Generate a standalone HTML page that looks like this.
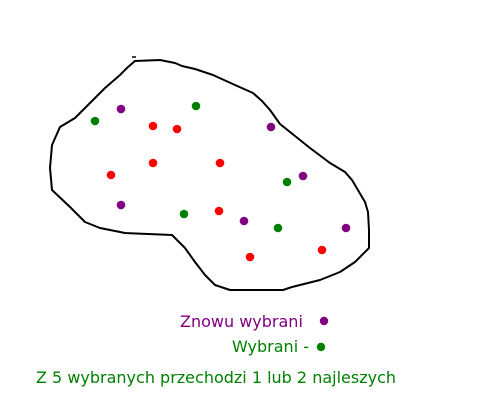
<!DOCTYPE html>
<html><head><meta charset="utf-8"><style>
html,body{margin:0;padding:0;background:#fff;width:503px;height:403px;overflow:hidden}
svg text{font-family:"DejaVu Sans","Liberation Sans",sans-serif;font-size:16px}
</style></head><body>
<svg width="503" height="403" viewBox="0 0 503 403">
<path fill="none" stroke="#000" stroke-width="2" stroke-linejoin="round"
d="M135,61 L160,60 L175,63 L182,66 L195,69 L213,75 L235,85 L253,93 L262,101 L270,110 L280,124 L290,132 L310,148 L330,163 L345,172 L352,180 L365,202 L368,212 L369,230 L369,248 L355,262 L340,272 L320,280 L292,287 L283,290 L230,290 L215,285 L205,275 L195,262 L185,248 L172,235 L125,233 L100,228 L85,222 L70,207 L52,190 L50,168 L52,145 L60,127 L75,118 L90,103 L105,88 L120,75 L128,67 Z"/>
<line x1="132" y1="57" x2="136" y2="57" stroke="#000" stroke-width="1.5"/>
<g id="dots"></g>
<text x="180" y="327" fill="#800080">Znowu wybrani</text>
<circle cx="324" cy="321" r="4.2" fill="#800080"/>
<text x="232" y="352" fill="#008000">Wybrani -</text>
<circle cx="321" cy="347" r="4.2" fill="#008000"/>
<text x="36" y="383" fill="#008000">Z 5 wybranych przechodzi 1 lub 2 najleszych</text>
</svg>
<script>
const redX=[153,177,111,153,220,219,250,322];
const redY=[126,129,175,163,163,211,257,250];
const purpleX=[121,271,303,121,244,346];
const purpleY=[109,127,176,205,221,228];
const greenX=[196,95,287,184,278];
const greenY=[106,121,182,214,228];
const g=document.getElementById('dots');
function draw(xs,ys,color,name){
  for(let i=0;i<xs.length;i++){
    const c=document.createElementNS('http://www.w3.org/2000/svg','circle');
    c.setAttribute('cx',xs[i]);c.setAttribute('cy',ys[i]);c.setAttribute('r',4.3);c.setAttribute('fill',color);
    
    
    g.appendChild(c);
  }
}
draw(redX,redY,'#ff0000','red-dot');
draw(purpleX,purpleY,'#800080','purple-dot');
draw(greenX,greenY,'#008000','green-dot');
</script>
</body></html>
